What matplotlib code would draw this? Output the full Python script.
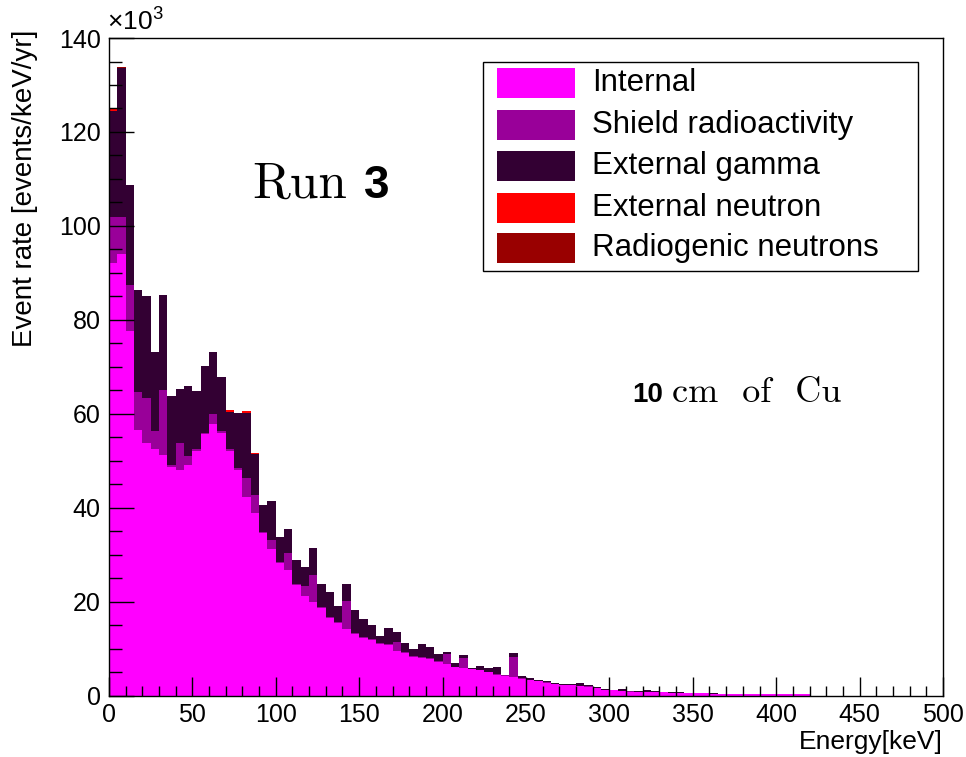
"""Stacked background spectrum, Run 3 with 10 cm of Cu shielding (ROOT-like look)."""
import matplotlib
matplotlib.use("Agg")
import matplotlib.pyplot as plt
from matplotlib.patches import Rectangle
from matplotlib.ticker import MultipleLocator

# palette roles
INTERNAL, SHIELD, GAMMA = "#ff00ff", "#990099", "#330033"
NEUTRON, RADIOGENIC = "#ff0000", "#990000"

plt.rcParams.update({
    "font.family": ["Liberation Sans", "DejaVu Sans"],
    "mathtext.fontset": "custom", "mathtext.rm": "Liberation Sans",
    "axes.linewidth": 1.0, "axes.edgecolor": "black",
})

# 5 keV bins, 0..500 keV; rates in 10^3 events/keV/yr
bin_edges_kev = list(range(0, 505, 5))
internal = [
    92.2, 94.0, 77.7, 56.6, 53.8, 52.5, 51.3, 48.8, 48.1, 49.1,
    52.2, 55.7, 57.9, 55.9, 52.1, 48.1, 42.4, 38.9, 34.6, 31.2,
    28.2, 26.7, 23.6, 21.3, 19.9, 18.7, 16.5, 15.6, 14.3, 13.2,
    12.3, 12.0, 11.1, 10.9, 9.6, 9.1, 8.4, 8.0, 7.8, 7.3,
    6.8, 6.1, 5.9, 5.7, 5.5, 5.0, 4.5, 4.3, 4.1, 3.7,
    3.4, 3.1, 2.8, 2.5, 2.3, 2.3, 2.1, 2.0, 1.6, 1.3,
    1.2, 1.1, 0.95, 0.9, 0.85, 0.8, 0.75, 0.7, 0.65, 0.6,
    0.6, 0.55, 0.5, 0.5, 0.45, 0.45, 0.45, 0.4, 0.4, 0.4,
    0.4, 0.35, 0.35, 0.35] + [0.0] * 16
shield = [
    9.8, 8.0, 9.7, 8.0, 9.7, 3.9, 13.7, 0.3, 5.7, 2.0,
    0.3, 0.3, 2.0, 0.4, 0.4, 0.4, 4.0, 3.9, 0.3, 2.0,
    0.3, 3.8, 0.3, 2.0, 5.8, 0.2, 0.2, 0.2, 5.9, 0.2,
    0.2, 0.2, 0.2, 0.2, 1.8, 0.2, 0.2, 0.2, 0.2, 0.2,
    2.1, 0.1, 2.1, 0.1, 0.1, 0.1, 0.1, 0.1, 4.1, 0.1,
    0.1, 0.1, 0.1, 0.05, 0.05, 0.05, 0.1, 0.05, 0.05, 0.05,
    0.05, 0.05, 0.02, 0.02, 0.05, 0.02, 0.02, 0.02, 0.02, 0.01] + [0.0] * 30
ext_gamma = [
    22.5, 31.7, 21.3, 21.7, 21.6, 16.8, 20.4, 14.8, 11.5, 14.9,
    12.4, 14.2, 13.2, 11.6, 7.9, 11.8, 13.8, 8.6, 5.7, 8.3,
    5.3, 5.0, 5.0, 4.2, 5.7, 4.9, 5.5, 3.3, 3.6, 4.9,
    3.8, 2.8, 1.5, 3.4, 2.3, 1.9, 1.5, 2.8, 2.4, 1.4,
    0.5, 0.8, 0.7, 0.2, 0.8, 0.8, 1.5, 0.1, 1.0, 0.5,
    0.3, 0.2, 0.2, 0.15, 0.1, 0.25, 0.5, 0.25, 0.35, 0.1,
    0.05, 0.25, 0.05, 0.05, 0.35, 0.18, 0.03, 0.03, 0.13, 0.02,
    0.0, 0.0, 0.15] + [0.0] * 27
ext_neutron = [
    0.5, 0.0, 0.0, 0.0, 0.0, 0.0, 0.0, 0.0, 0.0, 0.0,
    0.0, 0.0, 0.0, 0.0, 0.5, 0.0, 0.5, 0.4] + [0.0] * 82
radiogenic = [0.05, 0.05, 0.03, 0.02, 0.02] + [0.0] * 95

layers = [("Internal", internal, INTERNAL),
          ("Shield radioactivity", shield, SHIELD),
          ("External gamma", ext_gamma, GAMMA),
          ("External neutron", ext_neutron, NEUTRON),
          ("Radiogenic neutrons", radiogenic, RADIOGENIC)]

fig = plt.figure(figsize=(9.66, 7.57), dpi=100)
ax = fig.add_axes([0.1128, 0.0806, 0.8634, 0.8692])

left = bin_edges_kev[:-1]
bottom = [0.0] * len(left)
for name, vals, color in layers:
    ax.bar(left, vals, width=5, bottom=bottom, align="edge",
           color=color, linewidth=0)
    bottom = [b + v for b, v in zip(bottom, vals)]

ax.set_xlim(0, 500)
ax.set_ylim(0, 140)
ax.xaxis.set_major_locator(MultipleLocator(50))
ax.xaxis.set_minor_locator(MultipleLocator(10))
ax.yaxis.set_major_locator(MultipleLocator(20))
ax.yaxis.set_minor_locator(MultipleLocator(5))
ax.tick_params(axis="x", which="major", direction="in", length=14, width=1,
               labelsize=18, pad=5)
ax.tick_params(axis="x", which="minor", direction="in", length=7, width=1)
ax.tick_params(axis="y", which="major", direction="in", length=18, width=1,
               labelsize=18, pad=6)
ax.tick_params(axis="y", which="minor", direction="in", length=9, width=1)

ax.text(1.0, -0.07, "Energy[keV]", transform=ax.transAxes, ha="right",
        va="center", fontsize=19)
ax.text(-0.101, 1.012, "Event rate [events/keV/yr]", transform=ax.transAxes,
        rotation=90, ha="center", va="top", fontsize=20)
ax.text(-0.002, 1.026, r"×10$^{3}$", transform=ax.transAxes, ha="left",
        va="center", fontsize=19)

# annotations
ax.text(0.1715, 0.757, "Run", transform=ax.transAxes, family="cmr10",
        fontsize=37, va="baseline")
ax.text(0.306, 0.757, "3", transform=ax.transAxes, fontsize=33,
        fontweight="bold", va="baseline")
ax.text(0.627, 0.4468, "10", transform=ax.transAxes, fontsize=20,
        fontweight="bold", va="baseline")
ax.text(0.675, 0.4468, "cm  of  Cu", transform=ax.transAxes, family="cmr10",
        fontsize=26, va="baseline")

# ROOT-style legend box
ax.add_patch(Rectangle((0.448, 0.646), 0.522, 0.3175, transform=ax.transAxes,
                       facecolor="white", edgecolor="black", lw=1, zorder=5))
row_y = [0.9316, 0.8678, 0.8055, 0.7416, 0.6809]
for (name, vals, color), y in zip(layers, row_y):
    ax.add_patch(Rectangle((0.4652, y - 0.0228), 0.0936, 0.0456,
                           transform=ax.transAxes, facecolor=color,
                           linewidth=0, zorder=6))
    ax.text(0.5791, y, name, transform=ax.transAxes, fontsize=22.5,
            va="center", ha="left", zorder=6)

fig.savefig("out.png", dpi=100, facecolor="white")
